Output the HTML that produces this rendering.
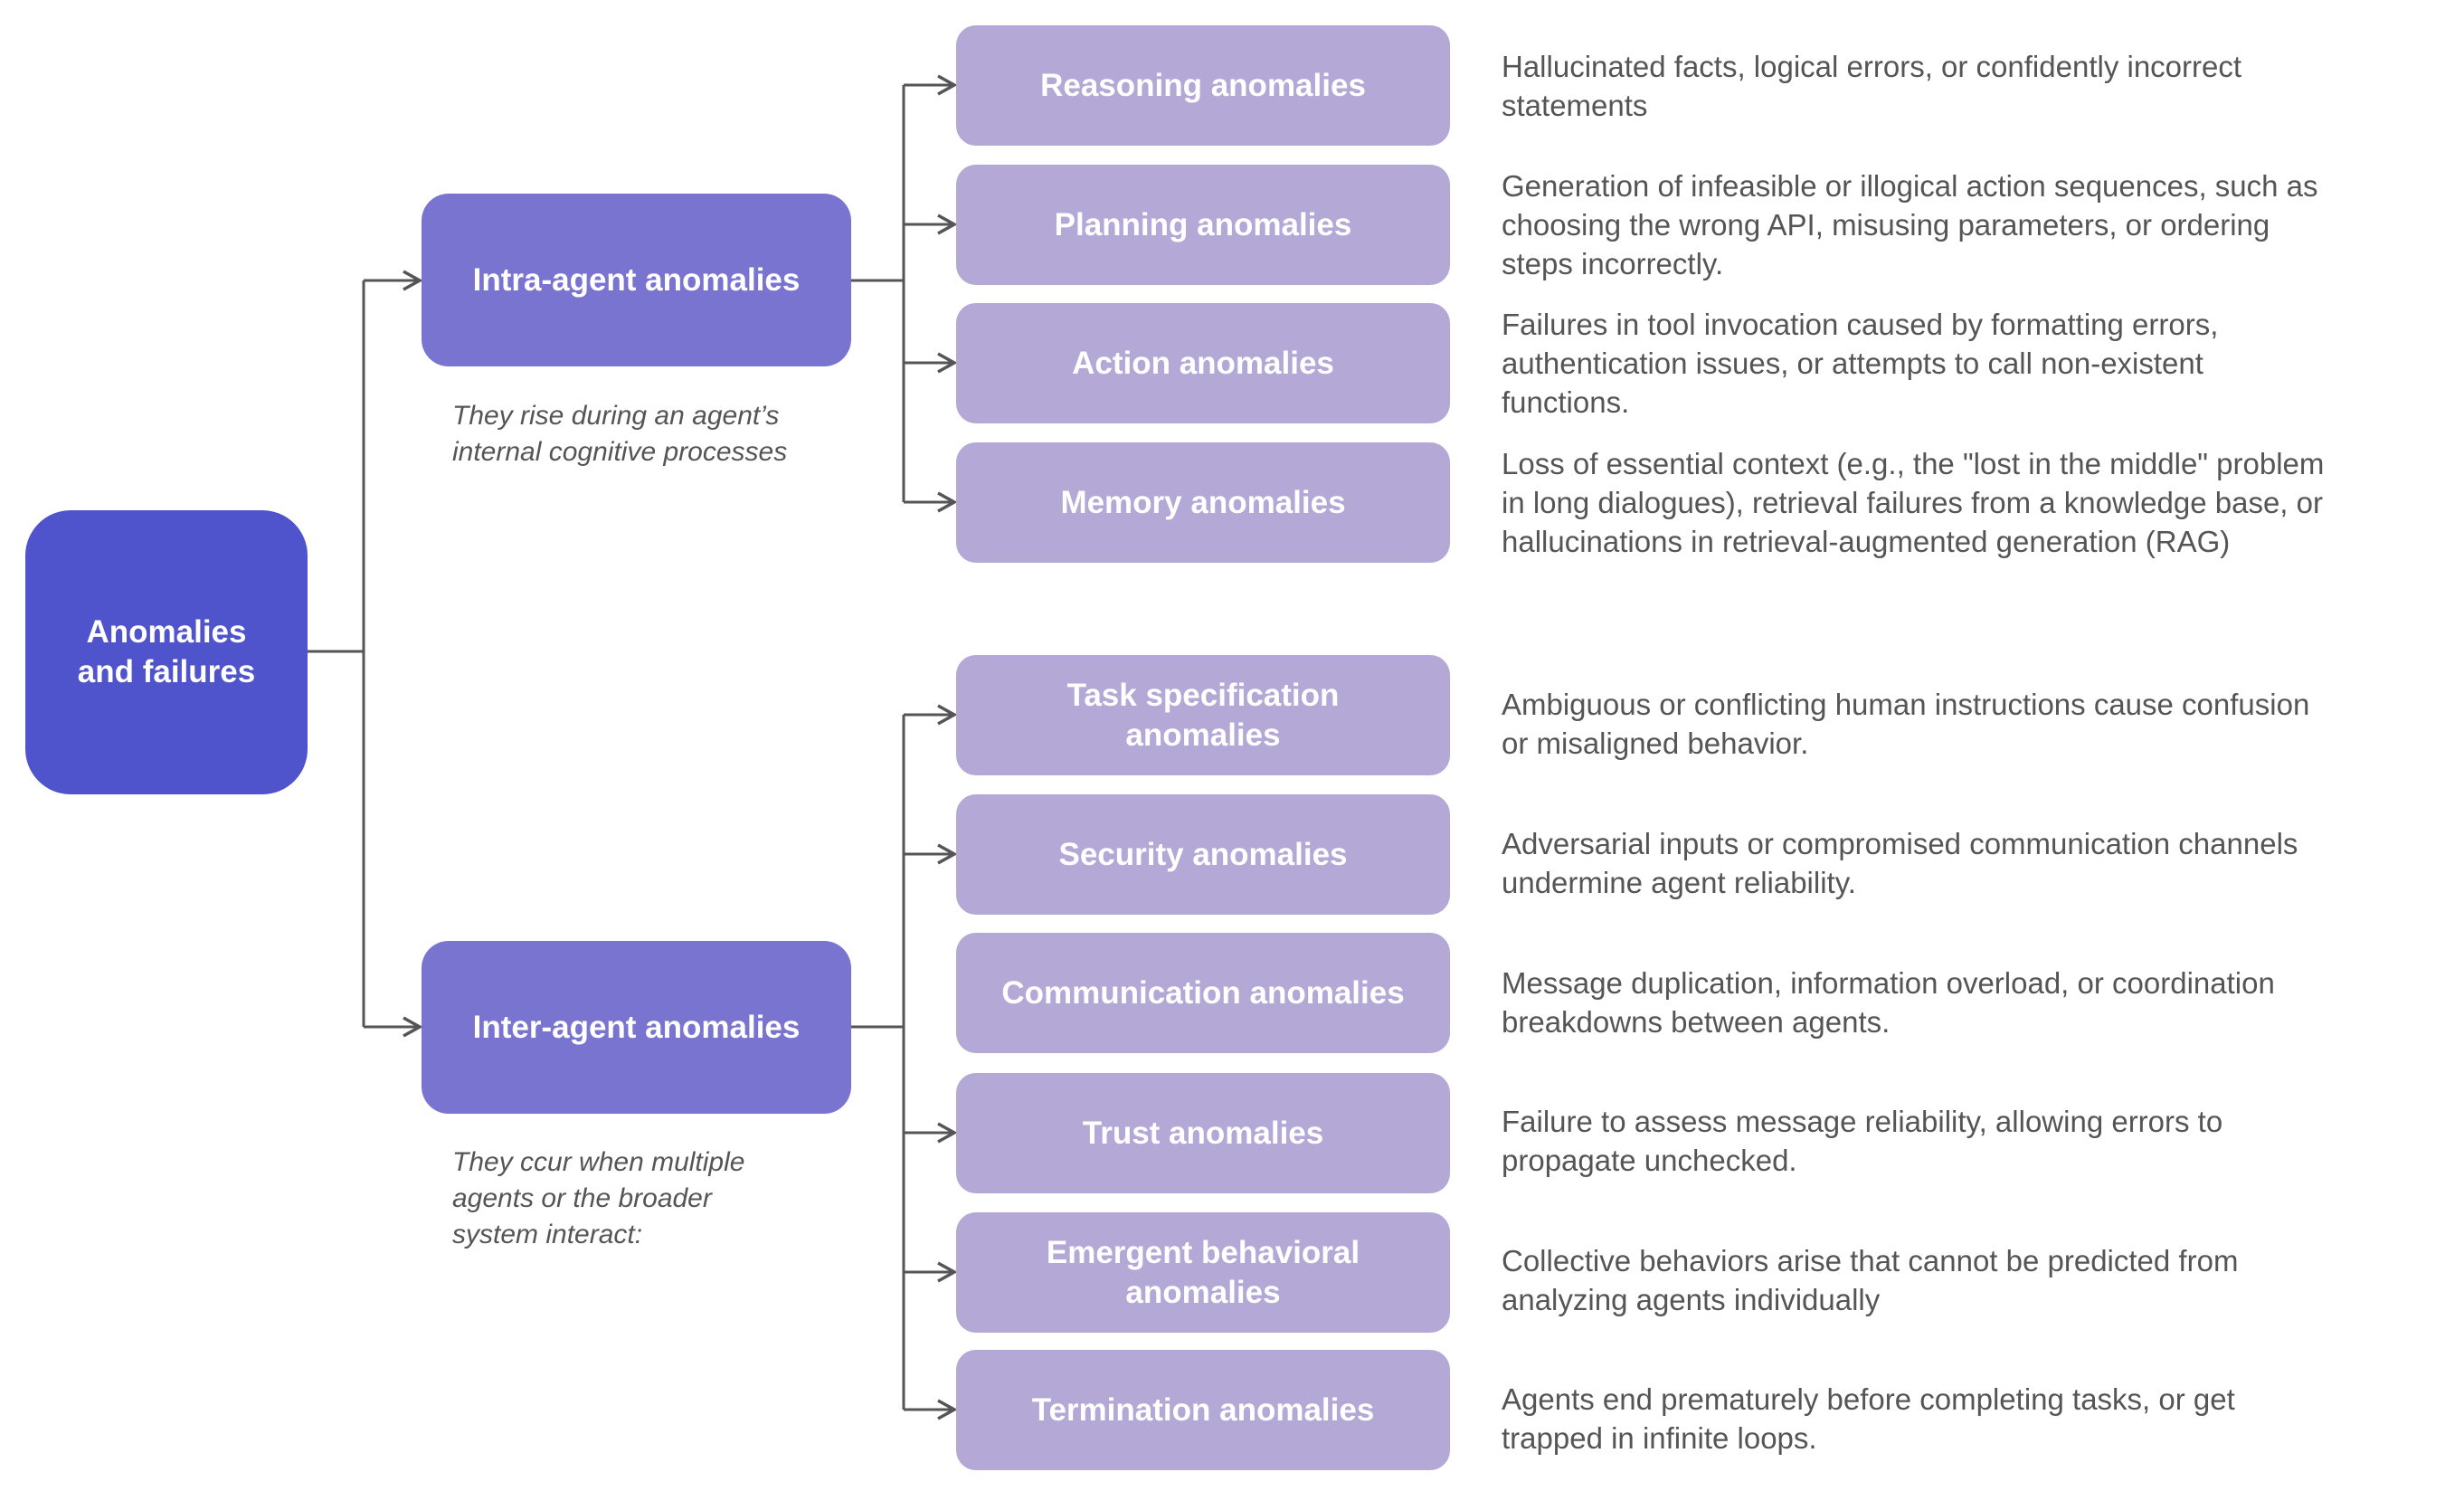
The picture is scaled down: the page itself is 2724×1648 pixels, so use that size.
<!DOCTYPE html>
<html><head><meta charset="utf-8"><style>
body{margin:0;background:#fff;width:2724px;height:1648px;overflow:hidden;font-family:"Liberation Sans",sans-serif}
svg{position:absolute;left:0;top:0}
.b{position:absolute;display:flex;align-items:center;justify-content:center;text-align:center;color:#fff;font-weight:bold;font-size:35px;line-height:44px;box-sizing:border-box}
.c{background:#b3a8d6;border-radius:22px;left:1057px;width:546px;height:133px}
.d{position:absolute;left:1660px;width:1060px;display:flex;align-items:center;height:133px;color:#555;font-size:33px;line-height:43px}
.n{position:absolute;left:500px;color:#555;font-style:italic;font-size:30px;line-height:40px}
</style></head><body>
<svg width="2724" height="1648" fill="none" stroke="#555" stroke-width="3">
<path d="M340 720H402M402 310V1135M402 310H462M402 1135H462"/>
<path d="M941 310H999M999 94V555M999 94H1053M999 248H1053M999 401H1053M999 555H1053"/>
<path d="M941 1135H999M999 790V1558M999 790H1053M999 944H1053M999 1252H1053M999 1406H1053M999 1558H1053"/>
<g stroke-width="3.5">
<path d="M446 300L464 310L446 320"/><path d="M446 1125L464 1135L446 1145"/>
<path d="M1037 84L1055 94L1037 104"/><path d="M1037 238L1055 248L1037 258"/><path d="M1037 391L1055 401L1037 411"/><path d="M1037 545L1055 555L1037 565"/>
<path d="M1037 780L1055 790L1037 800"/><path d="M1037 934L1055 944L1037 954"/><path d="M1037 1242L1055 1252L1037 1262"/><path d="M1037 1396L1055 1406L1037 1416"/><path d="M1037 1548L1055 1558L1037 1568"/>
</g></svg>
<div class="b" style="left:28px;top:564px;width:312px;height:314px;background:#4f53cc;border-radius:50px">Anomalies<br>and failures</div>
<div class="b" style="left:466px;top:214px;width:475px;height:191px;background:#7a74d1;border-radius:30px">Intra-agent anomalies</div>
<div class="b" style="left:466px;top:1040px;width:475px;height:191px;background:#7a74d1;border-radius:30px">Inter-agent anomalies</div>
<div class="n" style="top:440px">They rise during an agent’s<br>internal cognitive processes</div>
<div class="n" style="top:1265px">They ccur when multiple<br>agents or the broader<br>system interact:</div>

<div class="b c" style="top:28px">Reasoning anomalies</div>
<div class="b c" style="top:182px">Planning anomalies</div>
<div class="b c" style="top:335px">Action anomalies</div>
<div class="b c" style="top:489px">Memory anomalies</div>
<div class="b c" style="top:724px">Task specification<br>anomalies</div>
<div class="b c" style="top:878px">Security anomalies</div>
<div class="b c" style="top:1031px">Communication anomalies</div>
<div class="b c" style="top:1186px">Trust anomalies</div>
<div class="b c" style="top:1340px">Emergent behavioral<br>anomalies</div>
<div class="b c" style="top:1492px">Termination anomalies</div>

<div class="d" style="top:28px"><div>Hallucinated facts, logical errors, or confidently incorrect<br>statements</div></div>
<div class="d" style="top:182px"><div>Generation of infeasible or illogical action sequences, such as<br>choosing the wrong API, misusing parameters, or ordering<br>steps incorrectly.</div></div>
<div class="d" style="top:335px"><div>Failures in tool invocation caused by formatting errors,<br>authentication issues, or attempts to call non-existent<br>functions.</div></div>
<div class="d" style="top:489px"><div>Loss of essential context (e.g., the "lost in the middle" problem<br>in long dialogues), retrieval failures from a knowledge base, or<br>hallucinations in retrieval-augmented generation (RAG)</div></div>
<div class="d" style="top:733px"><div>Ambiguous or conflicting human instructions cause confusion<br>or misaligned behavior.</div></div>
<div class="d" style="top:887px"><div>Adversarial inputs or compromised communication channels<br>undermine agent reliability.</div></div>
<div class="d" style="top:1041px"><div>Message duplication, information overload, or coordination<br>breakdowns between agents.</div></div>
<div class="d" style="top:1194px"><div>Failure to assess message reliability, allowing errors to<br>propagate unchecked.</div></div>
<div class="d" style="top:1348px"><div>Collective behaviors arise that cannot be predicted from<br>analyzing agents individually</div></div>
<div class="d" style="top:1501px"><div>Agents end prematurely before completing tasks, or get<br>trapped in infinite loops.</div></div>
</body></html>
